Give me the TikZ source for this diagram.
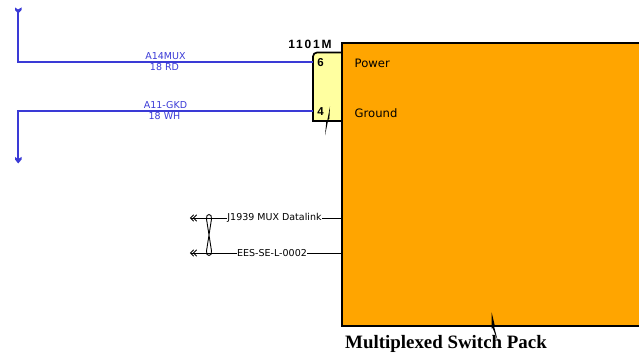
\documentclass[tikz,border=0pt]{standalone}
\usepackage{fontspec}
\setmainfont{DejaVu Sans}
\newfontfamily\serifb[Ligatures=TeX]{Liberation Serif}
\newfontfamily\helvb{Liberation Sans}
\usetikzlibrary{arrows.meta}
\definecolor{wireblue}{RGB}{58,58,214}
\definecolor{packorange}{RGB}{255,165,0}
\definecolor{connyellow}{RGB}{255,255,160}
\tikzset{
  x=1pt,y=-1pt,
  wire/.style={draw=wireblue,line width=1.5pt},
  wirelabel/.style={text=wireblue,font=\fontsize{9.5}{10}\selectfont,inner sep=0pt,anchor=center},
  sigwire/.style={draw=black,line width=0.9pt},
  siglabel/.style={font=\fontsize{9.5}{10}\selectfont,inner sep=0pt,fill=white},
  pinlabel/.style={font=\helvb\bfseries\fontsize{11.5}{12}\selectfont,inner sep=0pt},
  pintext/.style={font=\fontsize{11.6}{12}\selectfont,inner sep=0pt,anchor=west},
  bolt/.style={fill=black,draw=none},
  sigchev/.style={draw=black,line width=0.8pt,line cap=round},
}
\begin{document}
\begin{tikzpicture}
\useasboundingbox (0,0) rectangle (639,358);
% switch pack body
\path[fill=packorange] (342.3,43) rectangle (639,326);
% connector
\path[fill=connyellow,draw=black,line width=1.7pt,rounded corners=4pt]
  (342.3,121) [sharp corners] -- (313,121) [rounded corners=4pt] -- (313,52.5) [sharp corners] -- (342.3,52.5);
\draw[black,line width=2pt] (639,43) -- (342.3,43) -- (342.3,326) -- (639,326);
\node[font=\helvb\bfseries\fontsize{12}{13}\selectfont,inner sep=0pt] (conn) at (310,44) {\addfontfeatures{LetterSpace=15}1101M};
\node[pinlabel] (p6) at (320.5,62.5) {6};
\node[pinlabel] (p4) at (320.5,112) {4};
\coordinate (pin6) at (313,62);
\coordinate (pin4) at (313,111);
\node[pintext] (pow) at (354.5,63.5) {Power};
\node[pintext] (gnd) at (354.5,113) {Ground};
% power and ground wires
\coordinate (c1) at (18,62);
\coordinate (c2) at (18,111);
\coordinate (e1) at (18,10);
\coordinate (e2) at (18,160);
\draw[wire,line join=miter] (pin6) -- (c1) -- (e1);
\draw[wire,line join=miter] (pin4) -- (c2) -- (e2);
\path[fill=wireblue] (15,7.5) -- (18,9.5) -- (21.5,7.5) -- (21.5,10) -- (18.2,13.5) -- (15,10) -- cycle;
\path[fill=wireblue] (15,157) -- (18,159) -- (21.5,157) -- (21.5,159.5) -- (18.2,163.5) -- (15,159.5) -- cycle;
\node[wirelabel] (w1a) at (165.5,56.5) {A14MUX};
\node[wirelabel] (w1b) at (164.5,67) {18 RD};
\node[wirelabel] (w2a) at (165.5,105.5) {A11-GKD};
\node[wirelabel] (w2b) at (164.5,116.5) {18 WH};
% datalink
\node[siglabel] (s1) at (274.5,218) {J1939 MUX Datalink};
\node[siglabel] (s2) at (272,253) {EES-SE-L-0002};
\coordinate (pk1) at (342,218);
\coordinate (pk2) at (342,253);
\coordinate (a1) at (191,218);
\coordinate (a2) at (191,253);
\draw[sigwire] (pk1) -- (s1);
\draw[sigwire] (pk2) -- (s2);
\draw[sigwire] (s1) -- (a1);
\draw[sigwire] (s2) -- (a2);
\foreach \y in {218,253}{
  \draw[sigchev] (193.5,\y-3) -- (190.5,\y) -- (193.5,\y+3);
  \draw[sigchev] (196.5,\y-3) -- (193.5,\y) -- (196.5,\y+3);
}
% twist
\draw[sigwire] (206.5,219) .. controls (205.5,213) and (212.5,213) .. (211.5,219) -- (206.5,251) .. controls (205.5,257) and (212.5,257) .. (211.5,251) -- cycle;
% bolts
\path[bolt] (330,106.5) -- (329.3,119) -- (328.3,119.5) -- (325,135.5) -- (326.4,120.5) -- (327.4,120) -- cycle;
\path[bolt] (491.7,312.5) -- (495,326.5) -- (494.2,327) -- (497.8,341) -- (492.6,328) -- (491.6,328.5) -- cycle;
% title
\node[font=\serifb\bfseries\fontsize{18.9}{20}\selectfont,inner sep=0pt,anchor=west] (title) at (345,344) {Multiplexed Switch Pack};
\end{tikzpicture}
\end{document}
